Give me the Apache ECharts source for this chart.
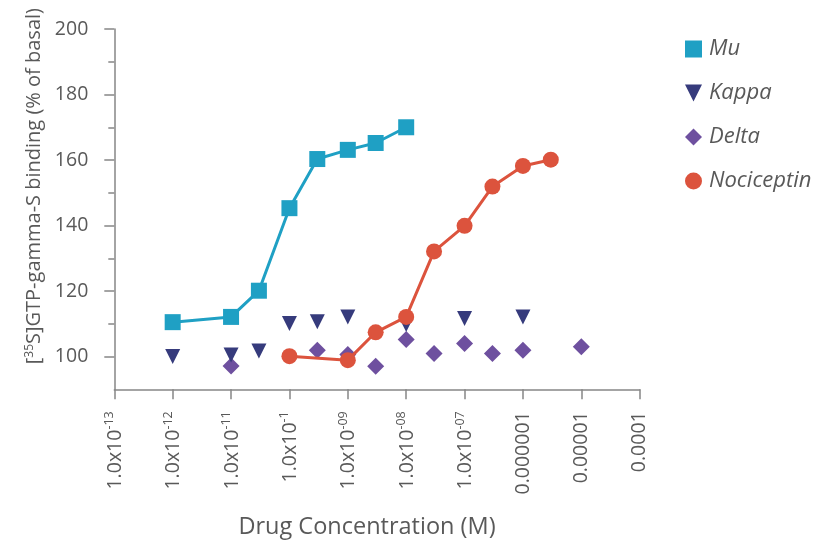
<!DOCTYPE html>
<html><head><meta charset="utf-8">
<script src="https://cdn.jsdelivr.net/npm/echarts@6/dist/echarts.min.js"></script>
<style>html,body{margin:0;padding:0;background:#fff}#c{width:840px;height:544px}</style>
</head><body><div id="c"></div>
<script>
const seriesNames = ['Mu', 'Kappa', 'Delta', 'Nociceptin'];
const muConc = [1e-12, 1e-11, 3e-11, 1e-10, 3e-10, 1e-9, 3e-9, 1e-8];
const muResp = [110.5, 112.1, 120.1, 145.3, 160.3, 163.1, 165.2, 170.0];
const kappaConc = [1e-12, 1e-11, 3e-11, 1e-10, 3e-10, 1e-9, 1e-8, 1e-7, 1e-6];
const kappaResp = [100.0, 100.5, 101.7, 110.1, 110.6, 112.1, 109.8, 111.6, 112.1];
const deltaConc = [1e-11, 3e-10, 1e-9, 3e-9, 1e-8, 3e-8, 1e-7, 3e-7, 1e-6, 1e-5];
const deltaResp = [97.1, 101.9, 100.6, 97.0, 105.2, 100.9, 104.0, 100.9, 101.9, 103.0];
const nocConc = [1e-10, 1e-9, 3e-9, 1e-8, 3e-8, 1e-7, 3e-7, 1e-6, 3e-6];
const nocResp = [100.1, 98.9, 107.4, 112.1, 132.1, 139.9, 151.9, 158.2, 160.1];

const xTickValues = [1e-13, 1e-12, 1e-11, 1e-10, 1e-9, 1e-8, 1e-7, 1e-6, 1e-5, 1e-4];
const xTickMain = ['1.0x10', '1.0x10', '1.0x10', '1.0x10', '1.0x10', '1.0x10', '1.0x10', '0.000001', '0.00001', '0.0001'];
const xTickSup = ['-13', '-12', '-11', '-1', '-09', '-08', '-07', '', '', ''];
const yTickValues = [100, 120, 140, 160, 180, 200];
const yMinorTickValues = [110, 130, 150, 170, 190];

const FONT = 'Open Sans';
const TXT = '#595959';
const AX = '#868686';
const colors = {Mu: '#1fa0c4', Kappa: '#363b7c', Delta: '#6e509f', Nociceptin: '#dc533d'};
const downTri = 'path://M0,0L10,0L5,10Z';
const zip = (a, b) => a.map((v, i) => [v, b[i]]);

const chart = echarts.init(document.getElementById('c'), null, {renderer: 'canvas'});
chart.setOption({
  animation: false,
  backgroundColor: '#fff',
  textStyle: {fontFamily: FONT},
  grid: {left: 114.3, right: 200.3, top: 29, bottom: 154.7, containLabel: false, outerBoundsMode: 'none'},
  legend: {
    orient: 'vertical', left: 680, top: 32,
    itemWidth: 17, itemHeight: 17, itemGap: 20,
    textStyle: {fontFamily: FONT, fontSize: 22, fontStyle: 'italic', color: TXT, lineHeight: 24, padding: [0, 0, 0, 2]},
    data: [
      {name: 'Mu', icon: 'rect'},
      {name: 'Kappa', icon: downTri},
      {name: 'Delta', icon: 'diamond'},
      {name: 'Nociceptin', icon: 'circle'}
    ]
  },
  xAxis: {
    type: 'log', logBase: 10, min: 1e-13, max: 1e-4,
    axisLine: {lineStyle: {color: AX, width: 1.5}},
    axisTick: {customValues: xTickValues, length: 10, lineStyle: {color: AX, width: 1.5}},
    splitLine: {show: false}, minorTick: {show: false},
    axisLabel: {
      customValues: xTickValues, rotate: 90, margin: 22, color: TXT, fontFamily: FONT, fontSize: 19.5,
      formatter: function (v) {
        const i = Math.round(Math.log10(v)) + 13;
        const s = xTickSup[i];
        return '{m|' + xTickMain[i] + '}' + (s ? '{s|' + s + '}' : '');
      },
      rich: {
        m: {fontFamily: FONT, fontSize: 19.5, color: TXT, verticalAlign: 'bottom'},
        s: {fontFamily: FONT, fontSize: 12.5, color: TXT, verticalAlign: 'bottom', padding: [0, 0, 9, 0]}
      }
    },
    name: 'Drug Concentration (M)', nameLocation: 'middle', nameGap: 126,
    nameTextStyle: {fontFamily: FONT, fontSize: 23.5, color: TXT, padding: [0, 20, 0, 0]}
  },
  yAxis: [{
    type: 'value', min: 90, max: 200, interval: 10,
    axisLine: {show: true, lineStyle: {color: AX, width: 1.5}},
    axisTick: {show: true, customValues: yTickValues, length: 10, lineStyle: {color: AX, width: 1.5}},
    axisLabel: {customValues: yTickValues, margin: 26, color: TXT, fontFamily: FONT, fontSize: 19.5},
    splitLine: {show: false},
    name: '{n|[}{s|35}{n|S]GTP-gamma-S binding (% of basal)}',
    nameLocation: 'middle', nameGap: 68,
    nameTextStyle: {
      padding: [0, 0, 0, 46],
      rich: {
        n: {fontFamily: FONT, fontSize: 20, color: TXT, verticalAlign: 'bottom'},
        s: {fontFamily: FONT, fontSize: 12, color: TXT, verticalAlign: 'bottom', padding: [0, 0, 8, 0]}
      }
    }
  }, {
    type: 'value', min: 90, max: 200, interval: 10, position: 'left',
    axisLine: {show: false},
    axisTick: {show: true, customValues: yMinorTickValues, length: 6, lineStyle: {color: AX, width: 1.5}},
    axisLabel: {show: false},
    splitLine: {show: false}
  }],
  series: [
    {name: 'Mu', type: 'line', data: zip(muConc, muResp), symbol: 'rect', symbolSize: 16,
      itemStyle: {color: colors.Mu}, lineStyle: {color: colors.Mu, width: 3}, z: 2},
    {name: 'Delta', type: 'scatter', data: zip(deltaConc, deltaResp), symbol: 'diamond', symbolSize: 17,
      itemStyle: {color: colors.Delta, opacity: 1}, z: 3},
    {name: 'Kappa', type: 'scatter', data: zip(kappaConc, kappaResp), symbol: downTri, symbolSize: [15, 15],
      itemStyle: {color: colors.Kappa, opacity: 1}, z: 4},
    {name: 'Nociceptin', type: 'line', data: zip(nocConc, nocResp), symbol: 'circle', symbolSize: 16,
      itemStyle: {color: colors.Nociceptin}, lineStyle: {color: colors.Nociceptin, width: 3}, z: 5}
  ]
});
</script></body></html>
